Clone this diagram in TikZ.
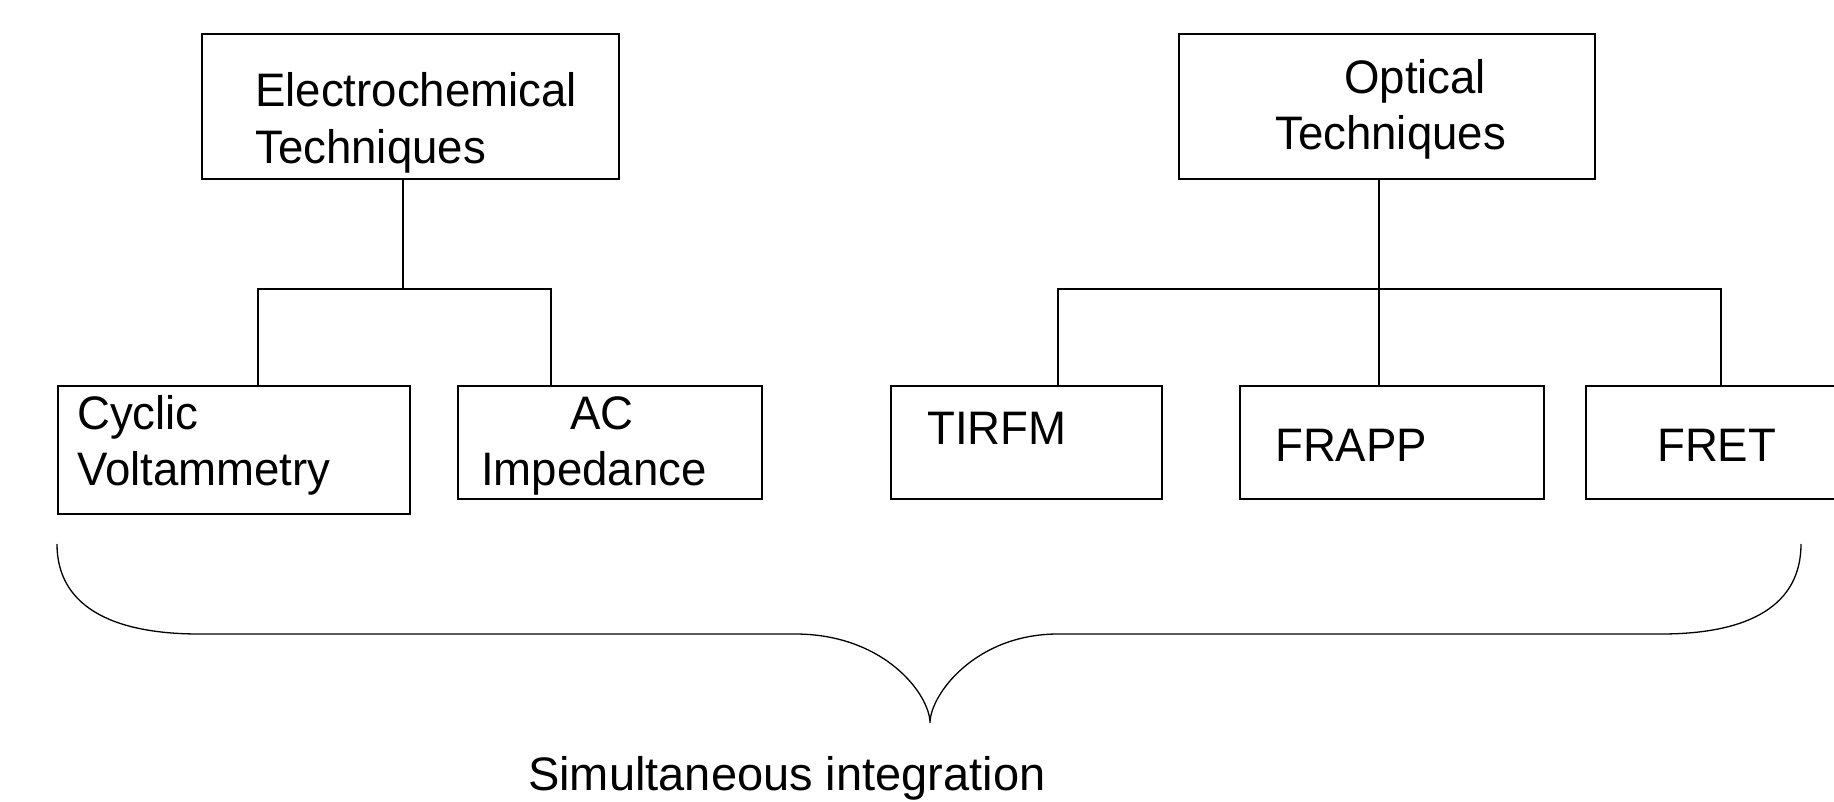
\documentclass[tikz,border=0pt]{standalone}
\usepackage{fontspec}
\setmainfont{Liberation Sans}
\newfontfamily\narrowsans{Liberation Sans}[FakeStretch=0.97]
\begin{document}
\begin{tikzpicture}[x=1pt,y=-1pt,
  box/.style={draw,line width=1.6pt,rectangle,inner sep=0pt,anchor=north west},
  lbl/.style={anchor=base west,inner sep=0pt,font=\narrowsans\fontsize{47}{56}\selectfont},
  bottomlbl/.style={anchor=base west,inner sep=0pt,font=\fontsize{47}{56}\selectfont},
  conn/.style={line width=1.4pt},
  brace/.style={line width=1.3pt}]
\useasboundingbox (0,0) rectangle (1834,802);
\clip (0,0) rectangle (1834,802);
% boxes
\node[box,minimum width=417pt,minimum height=145pt] (ec) at (201,33) {};
\node[box,minimum width=416pt,minimum height=145pt] (op) at (1178,33) {};
\node[box,minimum width=352pt,minimum height=128pt] (cv) at (57,385) {};
\node[box,minimum width=304pt,minimum height=113pt] (ac) at (457,385) {};
\node[box,minimum width=271pt,minimum height=113pt] (ti) at (890,385) {};
\node[box,minimum width=304pt,minimum height=113pt] (fr) at (1239,385) {};
\node[box,minimum width=270pt,minimum height=113pt] (fe) at (1585,385) {};
% labels
\node[lbl] (t1) at (255,107) {Electrochemical};
\node[lbl] (t2) at (255,164) {Techniques};
\node[lbl] (t3) at (1344,94) {Optical};
\node[lbl] (t4) at (1275,150) {Techniques};
\node[lbl] (t5) at (77,429) {Cyclic};
\node[lbl] (t6) at (77,485) {Voltammetry};
\node[lbl] (t7) at (570,429) {AC};
\node[lbl] (t8) at (481,485) {Impedance};
\node[lbl] (t9) at (927,444) {TIRFM};
\node[lbl] (t10) at (1275,461) {FRAPP};
\node[lbl] (t11) at (1657,461) {FRET};
\node[bottomlbl] (t12) at (528,790) {Simultaneous integration};
% connectors
\coordinate (ej) at (403,289);
\coordinate (el) at (258,289);
\coordinate (er) at (551,289);
\draw[conn] (ec.south -| ej) -- (ej);
\draw[conn] (cv.north -| el) -- (el) -- (er) -- (ac.north -| er);
\coordinate (oj) at (1379,289);
\coordinate (ol) at (1058,289);
\coordinate (or) at (1721,289);
\draw[conn] (op.south -| oj) -- (fr.north -| oj);
\draw[conn] (ti.north -| ol) -- (ol) -- (or) -- (fe.north -| or);
% brace
\coordinate (b1) at (57,544);
\coordinate (b2) at (199,634);
\coordinate (b3) at (795,634);
\coordinate (b4) at (930,723);
\coordinate (b5) at (1058,634);
\coordinate (b6) at (1661,634);
\coordinate (b7) at (1801,544);
\draw[brace] (b1) .. controls (57,605) and (110,634) .. (b2) -- (b3)
  .. controls (885,634) and (930,695) .. (b4)
  .. controls (930,695) and (975,634) .. (b5) -- (b6)
  .. controls (1750,634) and (1801,605) .. (b7);
\end{tikzpicture}
\end{document}
